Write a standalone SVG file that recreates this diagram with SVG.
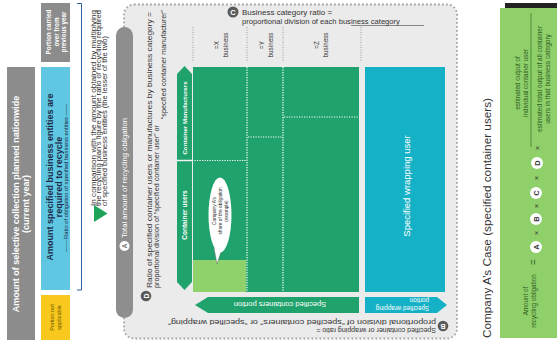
<svg xmlns="http://www.w3.org/2000/svg" width="557" height="349" viewBox="0 0 557 349">
<style>
text{font-family:"Liberation Sans",Arial,sans-serif;dominant-baseline:central;}
.wb{fill:#fff;font-weight:bold}
.w{fill:#fff}
.d{fill:#333}
.g{fill:#2b5a1e}
.lbl{fill:#5a5a5a}
.dotv{stroke:#fff;stroke-width:1.2;stroke-dasharray:1.2 1.3;fill:none}
.doth{stroke:#9a9a9a;stroke-width:1;stroke-dasharray:1 1.5;fill:none}
.circw{fill:#fff}
</style>
<rect width="557" height="349" fill="#fff"/>

<!-- background region -->
<rect id="ratio-region" x="124" y="4.5" width="333" height="334" rx="10" fill="#ebebeb" stroke="#a5a5a5" stroke-width="1.8" stroke-dasharray="1.8 2.2"/>

<g id="nationwide">
<rect x="7" y="67" width="28" height="273" fill="#8c8c8c"/>
<text class="wb" font-size="9" transform="translate(21,204) rotate(-90)" text-anchor="middle"><tspan x="0" dy="-5">Amount of selective collection planned nationwide</tspan><tspan x="0" dy="10">(current year)</tspan></text>
</g>

<g id="carried-over">
<rect x="41" y="3" width="29" height="59" fill="#8c8c8c"/>
<text class="wb" font-size="6.3" transform="translate(55.5,32) rotate(-90)" text-anchor="middle"><tspan x="0" dy="-7.5">Portion carried</tspan><tspan x="0" dy="7.5">over from</tspan><tspan x="0" dy="7.5">previous year</tspan></text>
</g>

<g id="required">
<rect x="41" y="67" width="29" height="223" fill="#5fc7e2"/>
<text fill="#1d2a48" font-weight="bold" font-size="9" transform="translate(54.5,177) rotate(-90)" text-anchor="middle"><tspan x="0" dy="-4.5">Amount specified business entities are</tspan><tspan x="0" dy="9">required to recycle</tspan></text>
<text fill="#1d2a48" font-size="5.8" transform="translate(66,178) rotate(-90)" text-anchor="middle">—— Ratio of obligation of specified business entities ——</text>
</g>

<g id="not-applicable">
<rect x="41" y="295" width="29" height="45" fill="#f8c81c"/>
<text fill="#6b5200" font-size="5.5" transform="translate(55.5,317.5) rotate(-90)" text-anchor="middle"><tspan x="0" dy="-3.2">Portion not</tspan><tspan x="0" dy="6.5">applicable</tspan></text>
</g>

<g id="connectors">
<path d="M77,3.5 H81.5 V290 H77" fill="none" stroke="#2f5fa6" stroke-width="1"/>
<polygon points="94,205 107.5,213.5 94,222" fill="#1fa35a"/>
</g>

<g id="comparison-note">
<text class="d" font-size="6.5" transform="translate(93,206) rotate(-90)" textLength="196" lengthAdjust="spacingAndGlyphs">In comparison with the amount obtained by multiplying</text>
<text class="d" font-size="6.5" transform="translate(98.5,206) rotate(-90)" textLength="196" lengthAdjust="spacingAndGlyphs">the recycling plan’s figure by the ratio of recycling required</text>
<text class="d" font-size="6.5" transform="translate(104,206) rotate(-90)" textLength="170" lengthAdjust="spacingAndGlyphs">of specified business entities (the lesser of the two)</text>
</g>

<g id="total-amount">
<rect x="116" y="27" width="17" height="291" rx="8.5" fill="#8e8e8e"/>
<circle cx="124.5" cy="246" r="5" fill="#fff"/>
<text fill="#7a7a7a" font-weight="bold" font-size="7" transform="translate(124.5,246) rotate(-90)" text-anchor="middle">A</text>
<text class="w" font-size="8" transform="translate(124.5,238) rotate(-90)" textLength="120" lengthAdjust="spacingAndGlyphs">Total amount of recycling obligation</text>
</g>

<g id="label-d">
<circle cx="146" cy="296" r="5.3" class="lbl"/>
<text class="wb" font-size="7" transform="translate(146,296) rotate(-90)" text-anchor="middle">D</text>
<text class="d" font-size="7.2" transform="translate(149,288) rotate(-90)" textLength="276" lengthAdjust="spacingAndGlyphs">Ratio of specified container users or manufactures by business category =</text>
<text class="d" font-size="7.2" transform="translate(156,288) rotate(-90)">proportional division of “specified container user” or</text>
<text class="d" font-size="7.2" transform="translate(163.5,10) rotate(-90)" text-anchor="end">“specified container manufacturer”</text>
</g>

<g id="label-c">
<circle cx="233" cy="12" r="5.5" class="lbl"/>
<text class="wb" font-size="7.5" x="233" y="12" text-anchor="middle">C</text>
<text class="d" font-size="8" x="242" y="12">Business category ratio =</text>
<text class="d" font-size="7.6" x="242" y="21">proportional division of each business category</text>
<line x1="351" y1="25.5" x2="424" y2="25.5" stroke="#444" stroke-width="0.6"/>
</g>

<g id="header">
<path class="doth" d="M193,27V62 M247,27V62 M283,27V62 M361,27V62"/>
<text class="d" font-size="6.3" transform="translate(220,45) rotate(-90)" text-anchor="middle"><tspan x="0" dy="-4.5">=X</tspan><tspan x="0" dy="9">business</tspan></text>
<text class="d" font-size="6.3" transform="translate(265,45) rotate(-90)" text-anchor="middle"><tspan x="0" dy="-4.5">=Y</tspan><tspan x="0" dy="9">business</tspan></text>
<text class="d" font-size="6.3" transform="translate(320,45) rotate(-90)" text-anchor="middle"><tspan x="0" dy="-4.5">=Z</tspan><tspan x="0" dy="9">business</tspan></text>
</g>

<g id="container-area">
<rect x="193" y="67" width="166" height="225" fill="#1fa26c"/>
<rect x="193" y="260" width="53" height="32" fill="#8fd16b"/>
<path class="dotv" d="M247,67V292 M283,67V292"/>
<path class="dotv" d="M177,160.5H246 M248,137H282 M284,117H359"/>
</g>

<g id="container-manufacturers">
<path d="M177,159.8 V74 L184.5,66 L192,74 V159.8 Z" fill="#1fa26c"/>
<text class="wb" font-size="6.2" transform="translate(184.5,118) rotate(-90)" text-anchor="middle">Container Manufacturers</text>
</g>

<g id="container-users">
<path d="M177,161.3 V282 L184.5,290 L192,282 V161.3 Z" fill="#1fa26c"/>
<text class="wb" font-size="6.5" transform="translate(184.5,215) rotate(-90)" text-anchor="middle">Container users</text>
</g>

<g id="company-a-share">
<path d="M214,248 L217,264 L222,249 Z" fill="#fff" stroke="#555" stroke-width="0.4"/>
<ellipse cx="220" cy="215" rx="11.5" ry="37.5" fill="#fff"/>
<text class="d" font-size="4.8" transform="translate(220,211) rotate(-90)" text-anchor="middle"><tspan x="0" dy="-6.3">Company A’s</tspan><tspan x="0" dy="6.3">share of the obligation</tspan><tspan x="0" dy="6.3">(example)</tspan></text>
</g>

<g id="wrapping-user">
<rect x="365" y="67" width="80" height="225" fill="#15b1c6"/>
<text class="w" font-size="9.5" transform="translate(406,186) rotate(-90)" text-anchor="middle">Specified wrapping user</text>
</g>

<g id="containers-portion">
<path d="M195,305 L208,297 H359 V313 H208 Z" fill="#1fa26c"/>
<text class="w" font-size="7.5" transform="translate(280,304.5) rotate(180)" text-anchor="middle">Specified containers portion</text>
</g>

<g id="wrapping-portion">
<path d="M365,297 H437 L447,305 L437,313 H365 Z" fill="#15b1c6"/>
<text class="w" font-size="6.3" transform="translate(429,305) rotate(180)"><tspan x="0" dy="-3.6">Specified wrapping</tspan><tspan x="0" dy="7.4">portion</tspan></text>
</g>

<g id="label-b">
<circle cx="443" cy="326" r="5.3" class="lbl"/>
<text class="wb" font-size="7" transform="translate(443,326) rotate(180)" text-anchor="middle">B</text>
<text class="d" font-size="7" transform="translate(436,330) rotate(180)">Specified container or wrapping ratio =</text>
<text class="d" font-size="7" transform="translate(436,322) rotate(180)" textLength="268" lengthAdjust="spacingAndGlyphs">proportional division of “specified containers” or “specified wrapping”</text>
</g>

<g id="company-a-case">
<text class="d" font-size="10.5" transform="translate(487,218) rotate(-90)" text-anchor="middle" textLength="240" lengthAdjust="spacingAndGlyphs">Company A’s Case (specified container users)</text>
</g>

<g id="formula">
<rect x="500" y="8" width="57" height="330" fill="#8fd06a"/>
<rect x="505" y="3" width="52" height="5" fill="#222"/>
<text class="g" font-size="6.3" transform="translate(529,301) rotate(-90)" text-anchor="middle"><tspan x="0" dy="-4">Amount of</tspan><tspan x="0" dy="8">recycling obligation</tspan></text>
<text class="g" font-size="10" transform="translate(533,262) rotate(-90)" text-anchor="middle">=</text>
<circle cx="536" cy="247" r="6" class="circw"/>
<text class="d" font-weight="bold" font-size="7.5" transform="translate(536,247) rotate(-90)" text-anchor="middle">A</text>
<text class="d" font-size="8" transform="translate(536,233) rotate(-90)" text-anchor="middle">×</text>
<circle cx="536" cy="219" r="6" class="circw"/>
<text class="d" font-weight="bold" font-size="7.5" transform="translate(536,219) rotate(-90)" text-anchor="middle">B</text>
<text class="d" font-size="8" transform="translate(536,206) rotate(-90)" text-anchor="middle">×</text>
<circle cx="536" cy="193" r="6" class="circw"/>
<text class="d" font-weight="bold" font-size="7.5" transform="translate(536,193) rotate(-90)" text-anchor="middle">C</text>
<text class="d" font-size="8" transform="translate(536,178) rotate(-90)" text-anchor="middle">×</text>
<circle cx="537" cy="163" r="6" class="circw"/>
<text class="d" font-weight="bold" font-size="7.5" transform="translate(537,163) rotate(-90)" text-anchor="middle">D</text>
<text class="d" font-size="8" transform="translate(537,148) rotate(-90)" text-anchor="middle">×</text>
<text class="g" font-size="6.3" transform="translate(521,83) rotate(-90)" text-anchor="middle"><tspan x="0" dy="-4">estimated output of</tspan><tspan x="0" dy="8">individual container user</tspan></text>
<line x1="531" y1="13" x2="531" y2="147" stroke="#2b5a1e" stroke-width="0.6"/>
<text class="g" font-size="6.5" transform="translate(543,79) rotate(-90)" text-anchor="middle"><tspan x="0" dy="-4">estimated total output of all container</tspan><tspan x="0" dy="8">users in that business category</tspan></text>
</g>
</svg>
